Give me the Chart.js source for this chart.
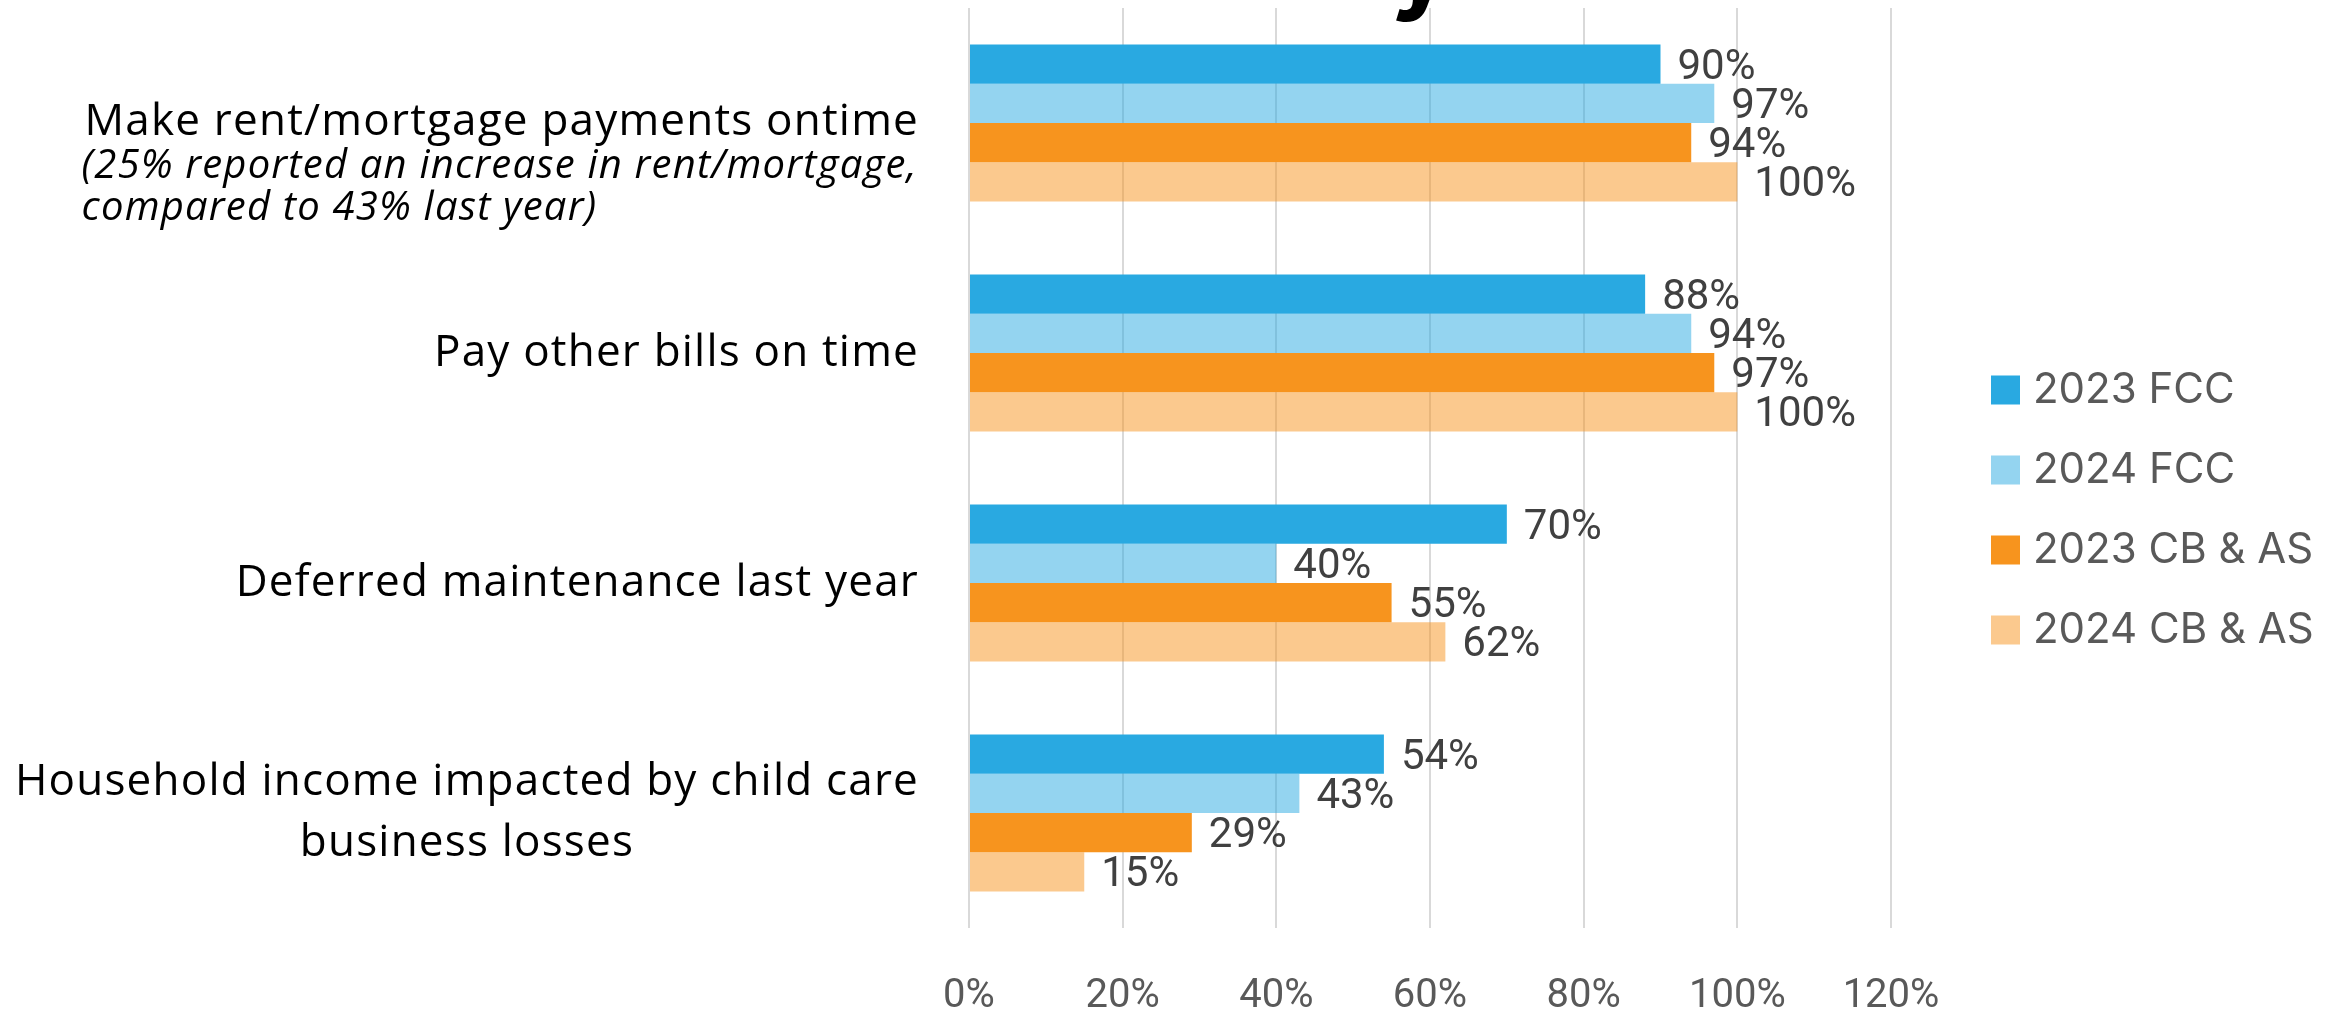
<!DOCTYPE html>
<html>
<head>
<meta charset="utf-8">
<script src="https://cdn.jsdelivr.net/npm/chart.js@4.4.0/dist/chart.umd.min.js"></script>
<style>
    html, body { margin: 0; padding: 0; background: #fff; }
    #wrap { width: 2344px; height: 1012px; }
</style>
</head>
<body>
<div id="wrap"><canvas id="billsChart" width="2344" height="1012"></canvas></div>
<script>
// Category labels (main lines) and the italic notes under them
const categories = [
    ['Make rent/mortgage payments ontime'],
    ['Pay other bills on time'],
    ['Deferred maintenance last year'],
    ['Household income impacted by child care', 'business losses']
];
const categoryNotes = [
    ['(25% reported an increase in rent/mortgage,', 'compared to 43% last year)'],
    [],
    [],
    []
];

const seriesNames = ['2023 FCC', '2024 FCC', '2023 CB & AS', '2024 CB & AS'];
const fcc2023 = [90, 88, 70, 54];
const fcc2024 = [97, 94, 40, 43];
const cbas2023 = [94, 97, 55, 29];
const cbas2024 = [100, 100, 62, 15];

const xTicks = [0, 20, 40, 60, 80, 100, 120];

const colors = ['#29a9e1', 'rgba(41,170,225,0.5)', '#f7941e', 'rgba(247,148,30,0.5)'];

// value labels at the end of each bar
const valueLabels = {
    id: 'valueLabels',
    afterDatasetsDraw(chart) {
        const ctx = chart.ctx;
        ctx.save();
        ctx.font = '42px Roboto';
        ctx.fillStyle = '#404040';
        ctx.textAlign = 'left';
        ctx.textBaseline = 'middle';
        chart.data.datasets.forEach((ds, di) => {
            chart.getDatasetMeta(di).data.forEach((bar, i) => {
                ctx.fillText(ds.data[i] + '%', bar.x + 17, bar.y + 4);
            });
        });
        ctx.restore();
    }
};

// category labels on the left, with the italic note lines
const categoryLabels = {
    id: 'categoryLabels',
    afterDraw(chart) {
        const ctx = chart.ctx;
        const yScale = chart.scales.y;
        const right = chart.chartArea.left - 50;
        ctx.save();
        ctx.fillStyle = '#000';
        ctx.textBaseline = 'middle';
        categories.forEach((lines, i) => {
            const yc = yScale.getPixelForValue(i);
            ctx.font = '44px "Open Sans"';
            ctx.letterSpacing = '1.2px';
            const widths = lines.map(t => ctx.measureText(t).width);
            const notes = categoryNotes[i];
            if (notes.length) {
                ctx.textAlign = 'right';
                ctx.fillText(lines[0], right, yc - 1);
                const left = right - widths[0];
                ctx.font = 'italic 40px "Open Sans"';
                ctx.letterSpacing = '1.2px';
                ctx.textAlign = 'left';
                notes.forEach((t, k) => ctx.fillText(t, left - 3, yc + 44 + k * 42));
            } else {
                const lh = 61;
                const top = yc - (lines.length - 1) * lh / 2;
                const center = right - widths[0] / 2;
                lines.forEach((t, k) => {
                    if (k === 0) {
                        ctx.textAlign = 'right';
                        ctx.fillText(t, right, top);
                    } else {
                        ctx.textAlign = 'center';
                        ctx.fillText(t, center, top + k * lh);
                    }
                });
            }
        });
        ctx.restore();
    }
};

// legend on the right side
const sideLegend = {
    id: 'sideLegend',
    afterDraw(chart) {
        const ctx = chart.ctx;
        const x = chart.chartArea.right + 100;
        const step = 80;
        const y0 = chart.height / 2 - step * 1.5 + 4;
        ctx.save();
        ctx.font = '42px Inter';
        ctx.textBaseline = 'middle';
        ctx.textAlign = 'left';
        chart.data.datasets.forEach((ds, i) => {
            const y = y0 + i * step;
            ctx.fillStyle = ds.backgroundColor;
            ctx.fillRect(x, y - 14.5, 29, 29);
            ctx.fillStyle = '#595959';
            ctx.fillText(ds.label, x + 42, y);
        });
        ctx.restore();
    }
};

// the descender of the title letter above the chart
const titleTail = {
    id: 'titleTail',
    afterDraw(chart) {
        const ctx = chart.ctx;
        ctx.save();
        ctx.font = 'bold 104px Inter';
        ctx.fillStyle = '#000';
        ctx.textBaseline = 'alphabetic';
        ctx.fillText('y', 1390, 0);
        ctx.restore();
    }
};

const ctx = document.getElementById('billsChart').getContext('2d');
const billsChart = new Chart(ctx, {
    type: 'bar',
    data: {
        labels: categories.map(l => l.join(' ')),
        datasets: [
            { label: seriesNames[0], data: fcc2023, backgroundColor: colors[0] },
            { label: seriesNames[1], data: fcc2024, backgroundColor: colors[1] },
            { label: seriesNames[2], data: cbas2023, backgroundColor: colors[2] },
            { label: seriesNames[3], data: cbas2024, backgroundColor: colors[3] }
        ]
    },
    options: {
        indexAxis: 'y',
        responsive: false,
        animation: false,
        devicePixelRatio: 1,
        layout: {
            padding: { top: 8, right: 453, left: 0, bottom: 0 }
        },
        datasets: {
            bar: {
                categoryPercentage: 0.683,
                barPercentage: 1,
                borderWidth: 0
            }
        },
        plugins: {
            legend: { display: false },
            tooltip: { enabled: false }
        },
        scales: {
            x: {
                min: 0,
                max: 120,
                afterBuildTicks: scale => {
                    scale.ticks = xTicks.map(v => ({ value: v }));
                },
                afterFit: scale => { scale.height = 84; },
                grid: { color: '#d9d9d9', lineWidth: 2, drawTicks: false },
                border: { display: false },
                ticks: {
                    padding: 45,
                    color: '#595959',
                    font: { family: 'Roboto', size: 40 },
                    callback: value => value + '%'
                }
            },
            y: {
                grid: { display: false },
                border: { display: false },
                ticks: { display: false },
                afterFit: scale => { scale.width = 969; }
            }
        }
    },
    plugins: [valueLabels, categoryLabels, sideLegend, titleTail]
});
</script>
</body>
</html>
